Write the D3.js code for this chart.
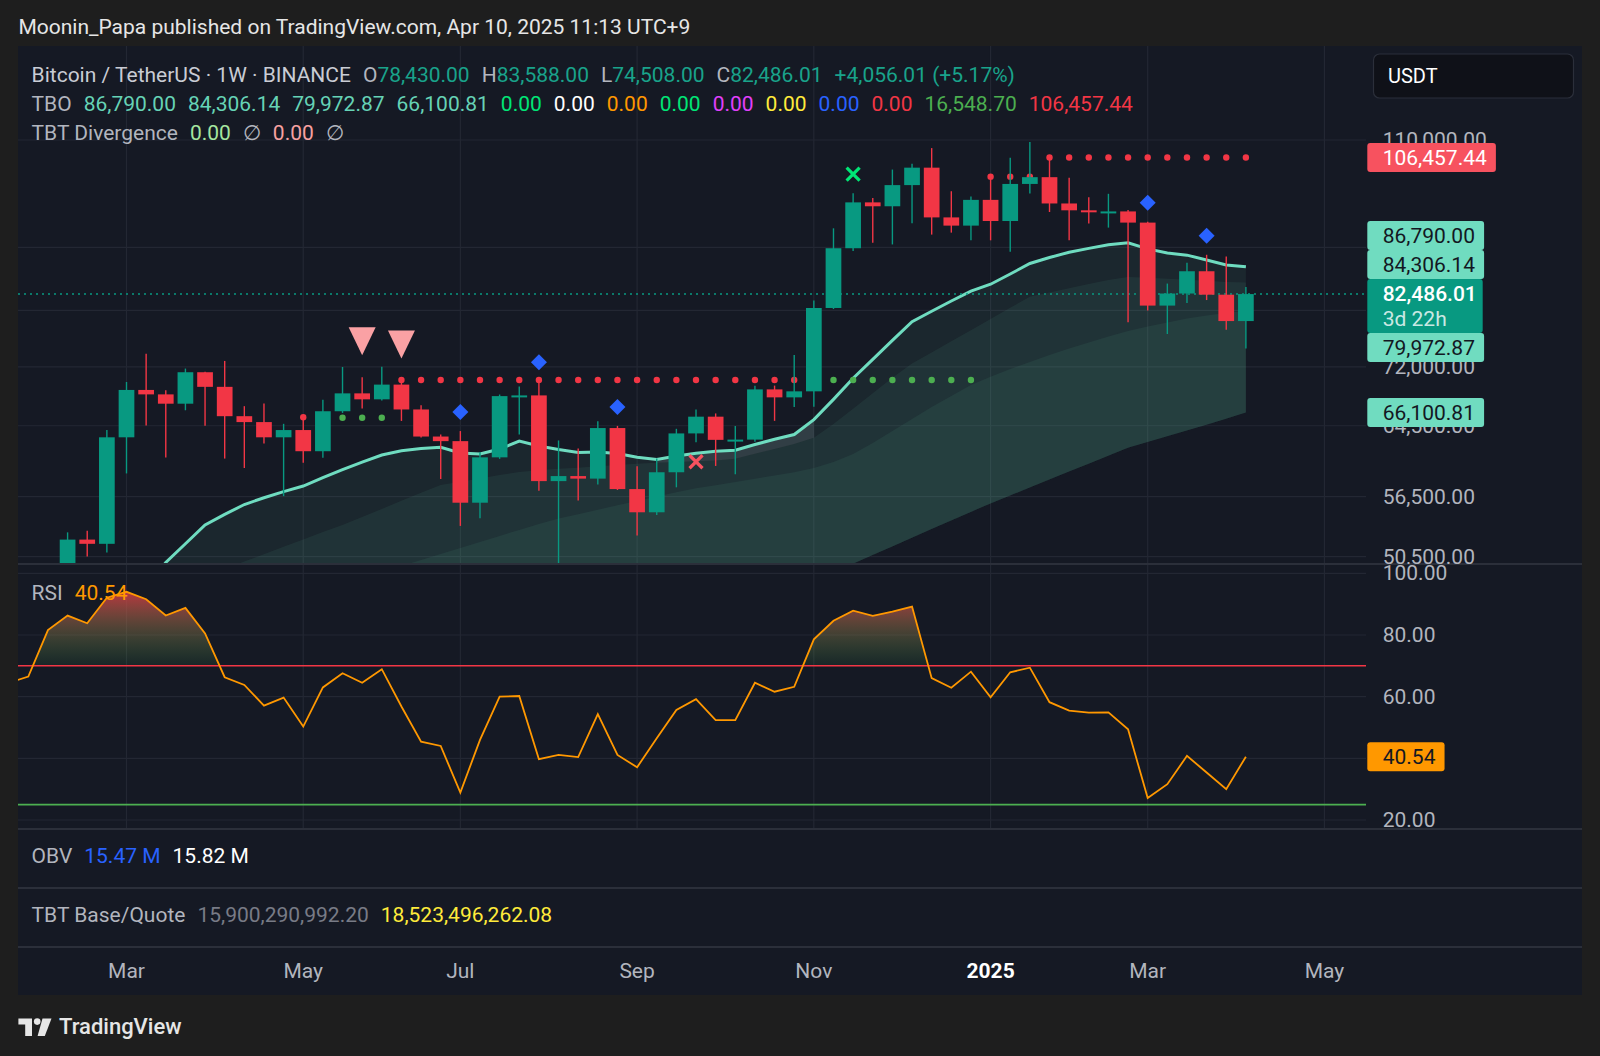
<!DOCTYPE html>
<html>
<head>
<meta charset="utf-8">
<script src="https://cdn.jsdelivr.net/npm/d3@7"></script>
<style>
  html, body { margin: 0; padding: 0; background: #1e1e1e; }
  svg { display: block; font-family: Roboto, "Noto Sans", sans-serif; }
</style>
</head>
<body>
<div id="chart"></div>
<script>
// weekly bars, BTCUSDT on Binance (week start, Monday)
var weeks = [
  "2024-01-22","2024-01-29","2024-02-05","2024-02-12","2024-02-19","2024-02-26",
  "2024-03-04","2024-03-11","2024-03-18","2024-03-25","2024-04-01","2024-04-08",
  "2024-04-15","2024-04-22","2024-04-29","2024-05-06","2024-05-13","2024-05-20",
  "2024-05-27","2024-06-03","2024-06-10","2024-06-17","2024-06-24","2024-07-01",
  "2024-07-08","2024-07-15","2024-07-22","2024-07-29","2024-08-05","2024-08-12",
  "2024-08-19","2024-08-26","2024-09-02","2024-09-09","2024-09-16","2024-09-23",
  "2024-09-30","2024-10-07","2024-10-14","2024-10-21","2024-10-28","2024-11-04",
  "2024-11-11","2024-11-18","2024-11-25","2024-12-02","2024-12-09","2024-12-16",
  "2024-12-23","2024-12-30","2025-01-06","2025-01-13","2025-01-20","2025-01-27",
  "2025-02-03","2025-02-10","2025-02-17","2025-02-24","2025-03-03","2025-03-10",
  "2025-03-17","2025-03-24","2025-03-31","2025-04-07"
];
var open = [41580,42030,42580,48300,52140,51730,
  63120,68960,68390,67210,71280,69360,65660,64940,63120,63980,61500,66270,
  68520,67760,69650,66490,63210,62670,55860,60800,68170,68260,58160,58710,
  58430,64220,57300,54870,59130,63580,65600,62820,62850,69030,68010,68780,
  80370,89860,97900,97190,101110,104460,95190,93740,98360,94550,101330,102620,
  97700,96460,96120,96260,94270,80730,82570,86080,82390,78430];
var high = [42200,43880,48970,52850,53000,64000,
  69990,73780,68920,71770,71340,72800,66900,67230,64730,65500,67700,71980,
  70600,72000,70200,67000,63460,63860,61420,68370,69400,70080,62750,61800,
  65050,64480,59810,60670,64130,66500,66000,64480,69500,69520,73620,81500,
  93270,99590,98690,104090,105250,108350,99960,98980,102720,106420,109590,106457.44,
  102500,98830,99480,96500,94420,84120,87450,88770,88500,83588];
var low = [38560,41800,42260,47700,50530,50900,
  59000,64530,60780,66390,64490,60660,59600,62390,56550,60190,60750,66060,
  66600,67610,65080,63100,58400,53490,54260,60630,63460,57120,49000,56080,
  57790,57200,52550,54590,57490,62540,59830,58900,62600,65090,66800,66840,
  80220,89380,90790,90500,94150,92180,92520,91220,91200,89260,99550,96150,
  91230,94090,93390,78260,80000,76560,81130,81570,77150,74508];
var close = [42030,42580,48300,52140,51730,63120,
  68960,68390,67210,71280,69360,65660,64940,63120,63980,61500,66270,68520,
  67760,69650,66490,63210,62670,55860,60800,68170,68260,58160,58710,58430,
  64220,57300,54870,59130,63580,65600,62820,62850,69030,68010,68780,80370,
  89860,97900,97190,101110,104460,95190,93740,98360,94550,101330,102620,97700,
  96460,96120,96260,94270,80730,82570,86080,82390,78430,82486.01];

// RSI, one value per week
var rsi = [64.5,66.5,81.6,86.3,83.8,92.1,
  94.0,91.6,86.3,88.8,80.5,66.3,63.8,57.1,59.7,50.3,63.0,67.6,
  64.5,68.9,56.8,45.4,44.0,28.9,46.0,60.0,60.2,39.7,41.1,40.4,
  54.3,41.1,37.1,46.5,55.7,59.2,52.4,52.4,64.5,61.6,63.2,78.6,
  84.6,87.9,86.2,87.6,89.2,66.0,62.9,68.1,59.8,67.9,69.4,58.2,
  55.5,54.8,54.9,49.4,27.1,31.6,40.8,35.4,30.0,40.54];

// TBO lines, from 2024-03-04 on
var tboStart = "2024-03-04";
var tboFast = [45200,47600,49960,51740,53590,54660,55670,56380,57030,57630,
  58550,59430,60270,61060,61560,61810,61950,61290,61180,61750,
  62680,62100,61690,61350,61410,61230,60800,60570,60950,61270,
  61490,61620,62270,62890,63450,65240,67760,70480,73010,75660,
  78350,79880,81420,82930,84020,85640,87340,88310,89200,89840,
  90440,90790,89750,89080,88710,87900,87100,86790];
var tboMid = [44900,45900,46900,47800,48600,49350,50050,50740,51440,52150,
  52880,53590,54400,55210,56060,56900,57750,58090,58450,58820,
  59170,59340,59510,59630,59790,59930,60090,60200,60270,60350,
  60440,60640,61200,61770,62340,63060,64700,66590,68540,70540,
  72440,73950,75510,77100,78730,80390,82080,82730,83380,84040,
  84700,85160,85030,84890,84720,84550,84380,84306.14];
var tboSlow = [42430,42900,43390,43880,44370,44870,45380,45880,46400,46930,
  47450,47990,48530,49080,49630,50190,50750,51330,51910,52500,
  53090,53690,54230,54680,55130,55590,56050,56510,56970,57380,
  57720,58070,58420,58770,59120,59600,60270,61170,62450,63860,
  65310,66790,68180,69600,70690,71710,72660,73610,74510,75350,
  76200,76990,77630,78210,78800,79250,79620,79972.87];
var tboBase = [35900,36300,36700,37100,37500,37900,38300,38700,39100,39500,
  39900,40300,40700,41100,41500,41900,42300,42650,43000,43350,
  43700,44050,44400,44750,45100,45450,45800,46100,46400,46700,
  47000,47300,47600,47900,48200,48600,49070,49850,50650,51480,
  52320,53170,54030,54910,55790,56620,57470,58340,59200,60090,
  60990,61890,62570,63250,63920,64630,65340,66100.81];
var tboGrayWeeks = ["2024-09-09", "2024-11-04"];

// level dots: [first week, last week, price]
var resistance = [
  ["2024-05-06","2024-05-06",65530],
  ["2024-06-10","2024-10-28",70250],
  ["2025-01-06","2025-01-20",102720],
  ["2025-01-27","2025-04-07",106457.44]
];
var support = [
  ["2024-05-20","2024-06-03",65470],
  ["2024-11-11","2024-12-30",70250]
];

// signal shapes
var sellTriangles = ["2024-05-27","2024-06-10"];
var blueDiamonds = ["2024-07-01","2024-07-29","2024-08-26","2025-03-03","2025-03-24"];
var greenCrosses = ["2024-11-18"];
var redCrosses = ["2024-09-23"];

// axes
var priceTicks = [110000, 90000, 80000, 72000, 64500, 56500, 50500];
var rsiTicks = [100, 80, 60, 40, 20];
var rsiUpper = 70, rsiLower = 25;
var monthTicks = [["2024-03","Mar"],["2024-05","May"],["2024-07","Jul"],["2024-09","Sep"],
  ["2024-11","Nov"],["2025-01","2025"],["2025-03","Mar"],["2025-05","May"]];

// legend texts
var tboExtra = [["0.00","#00e676"],["0.00","#ffffff"],["0.00","#ff9800"],["0.00","#00e676"],
  ["0.00","#e040fb"],["0.00","#ffeb3b"],["0.00","#2962ff"],["0.00","#f23645"],
  ["16,548.70","#4caf50"],["106,457.44","#f23645"]];
var obvValues = [["15.47 M","#2962ff"],["15.82 M","#ffffff"]];
var baseQuote = [["15,900,290,992.20","#787b86"],["18,523,496,262.08","#ffeb3b"]];
var resistanceLabel = 106457.44;

// ---------- layout ----------
var W = 1600, H = 1056;
var L = 18, R = 1582, plotR = 1366;
var mainTop = 46, mainBot = 564, rsiBot = 829, obvBot = 888, tbtBot = 947, timeBot = 995;
var up = "#089981", down = "#f23645", grid = "#232733", sep = "#2b2f3a", txt = "#b2b5be";
var parse = d3.utcParse("%Y-%m-%d");
var fmt = d3.format(",.2f");

var bars = weeks.map(function(w, i) {
  return {d: parse(w), w: w, o: open[i], h: high[i], l: low[i], c: close[i], rsi: rsi[i]};
});
var byWeek = {};
bars.forEach(function(b) { byWeek[b.w] = b; });

var x = d3.scaleUtc()
  .domain([parse("2024-03-04"), parse("2025-03-03")])
  .range([126.5, 1147.7]);
var y = d3.scaleLog().domain([50500, 110000]).range([556.7, 140]);
var yR = d3.scaleLinear().domain([20, 100]).range([820, 573.3]);
var step = x(bars[1].d) - x(bars[0].d);
var bodyW = step * 0.8;

var svg = d3.select("#chart").append("svg")
  .attr("width", W).attr("height", H);

var defs = svg.append("defs");
function clip(id, x0, y0, w, h) {
  defs.append("clipPath").attr("id", id).append("rect")
    .attr("x", x0).attr("y", y0).attr("width", w).attr("height", h);
}
clip("cMain", L, mainTop, plotR - L, mainBot - mainTop);
clip("cRsi", L, mainBot, plotR - L, rsiBot - mainBot);
clip("cOb", L, mainBot, plotR - L, yR(rsiUpper) - mainBot);
clip("cMainAx", plotR, mainTop, R - plotR, mainBot - mainTop);
clip("cRsiAx", plotR, mainBot, R - plotR, rsiBot - mainBot);

var grad = defs.append("linearGradient").attr("id", "obGrad")
  .attr("gradientUnits", "userSpaceOnUse")
  .attr("x1", 0).attr("x2", 0).attr("y1", yR(96)).attr("y2", yR(rsiUpper));
grad.append("stop").attr("offset", "0%").attr("stop-color", "#f23645").attr("stop-opacity", 0.85);
grad.append("stop").attr("offset", "100%").attr("stop-color", "#4caf50").attr("stop-opacity", 0.08);

// backgrounds
svg.append("rect").attr("width", W).attr("height", H).attr("fill", "#1e1e1e");
svg.append("rect").attr("x", L).attr("y", mainTop).attr("width", R - L)
  .attr("height", timeBot - mainTop).attr("fill", "#151924");

svg.append("text").attr("x", 18.4).attr("y", 26.5).attr("dominant-baseline", "central")
  .attr("fill", "#e6e6e6").attr("font-size", 21)
  .text("Moonin_Papa published on TradingView.com, Apr 10, 2025 11:13 UTC+9");

// grid
var gridG = svg.append("g").attr("stroke", grid).attr("stroke-width", 1.2);
monthTicks.forEach(function(m) {
  var xx = x(d3.utcMonday.ceil(d3.utcParse("%Y-%m")(m[0])));
  gridG.append("line").attr("x1", xx).attr("x2", xx).attr("y1", mainTop).attr("y2", rsiBot);
});
priceTicks.forEach(function(p) {
  gridG.append("line").attr("x1", L).attr("x2", plotR).attr("y1", y(p)).attr("y2", y(p));
});
rsiTicks.forEach(function(v) {
  gridG.append("line").attr("x1", L).attr("x2", plotR).attr("y1", yR(v)).attr("y2", yR(v));
});

// ---------- main pane ----------
var main = svg.append("g").attr("clip-path", "url(#cMain)");

var t0 = weeks.indexOf(tboStart);
var tbo = tboFast.map(function(v, i) {
  return {d: bars[t0 + i].d, w: weeks[t0 + i], fast: v, mid: tboMid[i], slow: tboSlow[i], base: tboBase[i]};
});
function band(k) {
  return d3.area().x(function(d) { return x(d.d); })
    .y0(function(d) { return y(d.base); })
    .y1(function(d) { return y(d[k]); });
}
["fast", "mid", "slow"].forEach(function(k) {
  main.append("path").datum(tbo).attr("d", band(k))
    .attr("fill", "rgb(100,200,170)").attr("fill-opacity", 0.08);
});
var grayPart = tbo.filter(function(d) { return d.w >= tboGrayWeeks[0] && d.w <= tboGrayWeeks[1]; });
main.append("path").datum(grayPart)
  .attr("d", d3.area().x(function(d) { return x(d.d); })
    .y0(function(d) { return y(d.mid); }).y1(function(d) { return y(d.fast); }))
  .attr("fill", "#b8c4c6").attr("fill-opacity", 0.15);
main.append("path").datum(tbo)
  .attr("d", d3.line().x(function(d) { return x(d.d); }).y(function(d) { return y(d.fast); }))
  .attr("fill", "none").attr("stroke", "#6fdcc0").attr("stroke-width", 3);

// last price line
var last = bars[bars.length - 1];
main.append("line").attr("x1", L).attr("x2", plotR).attr("y1", y(last.c)).attr("y2", y(last.c))
  .attr("stroke", up).attr("stroke-width", 1.6).attr("stroke-dasharray", "2,4");

// level dots
function dots(list, color) {
  list.forEach(function(s) {
    var pts = bars.filter(function(b) { return b.w >= s[0] && b.w <= s[1]; });
    main.selectAll(null).data(pts).enter().append("circle")
      .attr("cx", function(b) { return x(b.d); }).attr("cy", y(s[2]))
      .attr("r", 3.2).attr("fill", color);
  });
}
dots(resistance, "#f23645");
dots(support, "#4caf50");

// candles
var cg = main.selectAll(".bar").data(bars).enter().append("g");
cg.append("line")
  .attr("x1", function(b) { return x(b.d); }).attr("x2", function(b) { return x(b.d); })
  .attr("y1", function(b) { return y(b.h); }).attr("y2", function(b) { return y(b.l); })
  .attr("stroke", function(b) { return b.c >= b.o ? up : down; }).attr("stroke-width", 1.4);
cg.append("rect")
  .attr("x", function(b) { return x(b.d) - bodyW / 2; }).attr("width", bodyW)
  .attr("y", function(b) { return y(Math.max(b.o, b.c)); })
  .attr("height", function(b) { return Math.max(2, Math.abs(y(b.o) - y(b.c))); })
  .attr("fill", function(b) { return b.c >= b.o ? up : down; });

// signal shapes
sellTriangles.forEach(function(w) {
  var b = byWeek[w], cx = x(b.d), tip = y(b.h) - 22;
  main.append("path").attr("d", "M" + (cx - 13.5) + "," + (tip - 28) + "L" + (cx + 13.5) + "," + (tip - 28) + "L" + cx + "," + tip + "Z")
    .attr("fill", "#faa1a4");
});
blueDiamonds.forEach(function(w) {
  var b = byWeek[w], cx = x(b.d), cy = y(b.h) - 19, s = 8;
  main.append("path").attr("d", "M" + cx + "," + (cy - s) + "L" + (cx + s) + "," + cy + "L" + cx + "," + (cy + s) + "L" + (cx - s) + "," + cy + "Z")
    .attr("fill", "#2962ff");
});
function cross(cx, cy, color) {
  var s = 6.5;
  main.append("path").attr("d", "M" + (cx - s) + "," + (cy - s) + "L" + (cx + s) + "," + (cy + s) + "M" + (cx + s) + "," + (cy - s) + "L" + (cx - s) + "," + (cy + s))
    .attr("stroke", color).attr("stroke-width", 3.2).attr("fill", "none");
}
greenCrosses.forEach(function(w) { var b = byWeek[w]; cross(x(b.d), y(b.h) - 19, "#00e676"); });
redCrosses.forEach(function(w) { var b = byWeek[w]; cross(x(b.d), y(b.l) + 19.5, "#f7525f"); });

// ---------- RSI pane ----------
var rsiG = svg.append("g").attr("clip-path", "url(#cRsi)");
rsiG.append("g").attr("clip-path", "url(#cOb)").append("path").datum(bars)
  .attr("d", d3.area().x(function(b) { return x(b.d); })
    .y0(yR(rsiUpper)).y1(function(b) { return yR(b.rsi); }))
  .attr("fill", "url(#obGrad)");
rsiG.append("line").attr("x1", L).attr("x2", plotR).attr("y1", yR(rsiUpper)).attr("y2", yR(rsiUpper))
  .attr("stroke", "#f23645").attr("stroke-width", 1.6);
rsiG.append("line").attr("x1", L).attr("x2", plotR).attr("y1", yR(rsiLower)).attr("y2", yR(rsiLower))
  .attr("stroke", "#4caf50").attr("stroke-width", 1.6);
rsiG.append("path").datum(bars)
  .attr("d", d3.line().x(function(b) { return x(b.d); }).y(function(b) { return yR(b.rsi); }))
  .attr("fill", "none").attr("stroke", "#ff9800").attr("stroke-width", 1.8);

// pane separators
[mainBot, rsiBot, obvBot, tbtBot].forEach(function(yy) {
  svg.append("line").attr("x1", L).attr("x2", R).attr("y1", yy).attr("y2", yy)
    .attr("stroke", sep).attr("stroke-width", 2);
});

// ---------- legends ----------
function legend(yy, items) {
  var t = svg.append("text").attr("x", 31.6).attr("y", yy).attr("dominant-baseline", "central")
    .attr("font-size", 21);
  items.forEach(function(it, i) {
    t.append("tspan").attr("fill", it[1]).attr("dx", i === 0 ? 0 : (it[2] === undefined ? 12 : it[2]))
      .text(it[0]);
  });
}
var prevClose = bars[bars.length - 2].c;
var chg = last.c - prevClose;
var legUp = "#19a38b";
legend(74.5, [
  ["Bitcoin / TetherUS · 1W · BINANCE", "#c9ccd4"],
  ["O", txt, 12], [fmt(last.o), legUp, 0],
  ["H", txt, 12], [fmt(last.h), legUp, 0],
  ["L", txt, 12], [fmt(last.l), legUp, 0],
  ["C", txt, 12], [fmt(last.c), legUp, 0],
  ["+" + fmt(chg) + " (+" + d3.format(".2f")(chg / prevClose * 100) + "%)", legUp]
]);
var tl = tbo[tbo.length - 1];
legend(104, [["TBO", txt]].concat([tl.fast, tl.mid, tl.slow, tl.base].map(function(v) { return [fmt(v), "#66d3b6"]; }))
  .concat(tboExtra));
legend(133, [["TBT Divergence", txt], ["0.00", "#a5e6a0"], ["\u2205", txt], ["0.00", "#f7a1a1"], ["\u2205", txt]]);
legend(593, [["RSI", txt], [d3.format(".2f")(last.rsi), "#ff9800"]]);
legend(856, [["OBV", txt]].concat(obvValues));
legend(915.3, [["TBT Base/Quote", txt]].concat(baseQuote));

// ---------- price axis: stacked value tags ----------
var tagH = 29;
var closeTop = y(last.c) - 15, closeBot = closeTop + 54;
var tags = [
  {v: resistanceLabel, bg: "#f7525f", fg: "#ffffff"},
  {v: tl.fast, bg: "#70dcc0", fg: "#131722"},
  {v: tl.mid, bg: "#70dcc0", fg: "#131722"},
  {v: tl.slow, bg: "#70dcc0", fg: "#131722"},
  {v: tl.base, bg: "#70dcc0", fg: "#131722"}
];
var limit = closeTop;
tags.filter(function(d) { return d.v > last.c; }).sort(function(a, b) { return a.v - b.v; })
  .forEach(function(d) {
    var top = y(d.v) - tagH / 2;
    if (top + tagH > limit) top = limit - tagH;
    d.top = top; limit = top;
  });
limit = closeBot;
tags.filter(function(d) { return d.v < last.c; }).sort(function(a, b) { return b.v - a.v; })
  .forEach(function(d) {
    var top = y(d.v) - tagH / 2;
    if (top < limit) top = limit;
    d.top = top; limit = top + tagH;
  });
var covered = tags.map(function(d) { return [d.top, d.top + tagH]; }).concat([[closeTop, closeBot]]);

// tick labels that a tag hides completely are not drawn
var axMain = svg.append("g").attr("clip-path", "url(#cMainAx)").attr("font-size", 21);
priceTicks.forEach(function(p) {
  var yy = y(p);
  var hidden = covered.some(function(c) { return yy - 7 > c[0] && yy + 7 < c[1]; });
  if (hidden) return;
  axMain.append("text").attr("x", 1382.7).attr("y", yy).attr("dominant-baseline", "central")
    .attr("fill", txt).text(fmt(p));
});
var axRsi = svg.append("g").attr("clip-path", "url(#cRsiAx)").attr("font-size", 21);
rsiTicks.forEach(function(v) {
  if (Math.abs(yR(v) - yR(last.rsi)) < 10) return;
  axRsi.append("text").attr("x", 1382.7).attr("y", yR(v)).attr("dominant-baseline", "central")
    .attr("fill", txt).text(fmt(v));
});

function box(g, y0, h, bg, w) {
  g.append("rect").attr("x", 1367.3).attr("y", y0).attr("width", w).attr("height", h)
    .attr("rx", 3).attr("fill", bg);
}
function tag(g, cy, h, label, bg, fg, y0) {
  var t = g.append("text").attr("x", 1382.7).attr("y", cy).attr("dominant-baseline", "central")
    .attr("fill", fg).text(label);
  var w = t.node().getComputedTextLength() + 24.5;
  box(g, y0 === undefined ? cy - h / 2 : y0, h, bg, w);
  t.raise();
}

var tagG = svg.append("g").attr("font-size", 21);
tags.forEach(function(d) { tag(tagG, d.top + tagH / 2, tagH, fmt(d.v), d.bg, d.fg, d.top); });

var ct = tagG.append("g");
box(ct, closeTop, 54, up, 115.4);
ct.append("text").attr("x", 1382.7).attr("y", y(last.c)).attr("dominant-baseline", "central")
  .attr("fill", "#ffffff").attr("font-weight", 500).text(fmt(last.c));
ct.append("text").attr("x", 1382.7).attr("y", y(last.c) + 24.5).attr("dominant-baseline", "central")
  .attr("fill", "#ffffff").attr("fill-opacity", 0.8).text("3d 22h");

tag(svg.append("g").attr("font-size", 21), yR(last.rsi), tagH, d3.format(".2f")(last.rsi), "#ff9800", "#131722");

// currency box
svg.append("rect").attr("x", 1373.5).attr("y", 54).attr("width", 200).attr("height", 44).attr("rx", 6)
  .attr("fill", "#0f1118").attr("stroke", "#2b2f3a").attr("stroke-width", 1.2);
svg.append("text").attr("x", 1388).attr("y", 76).attr("dominant-baseline", "central")
  .attr("fill", "#ffffff").attr("font-size", 20).text("USDT");

// ---------- time axis ----------
monthTicks.forEach(function(m) {
  var xx = x(d3.utcMonday.ceil(d3.utcParse("%Y-%m")(m[0])));
  var bold = /^\d{4}$/.test(m[1]);
  svg.append("text").attr("x", xx).attr("y", 970.5).attr("text-anchor", "middle")
    .attr("dominant-baseline", "central").attr("font-size", 21)
    .attr("fill", bold ? "#ffffff" : txt).attr("font-weight", bold ? 700 : 400).text(m[1]);
});

// ---------- footer logo ----------
var logo = svg.append("g").attr("fill", "#e6e6e6");
logo.append("path").attr("d", "M18.4,1018.5H32V1036H25.2V1024.6H18.4Z");
logo.append("circle").attr("cx", 37.2).attr("cy", 1021.6).attr("r", 3.3);
logo.append("path").attr("d", "M42.5,1018.5H51.5L44.8,1036H37.6Z");
logo.append("text").attr("x", 59).attr("y", 1026.5).attr("dominant-baseline", "central")
  .attr("font-size", 22).attr("font-weight", 500).text("TradingView");
</script>
</body>
</html>
